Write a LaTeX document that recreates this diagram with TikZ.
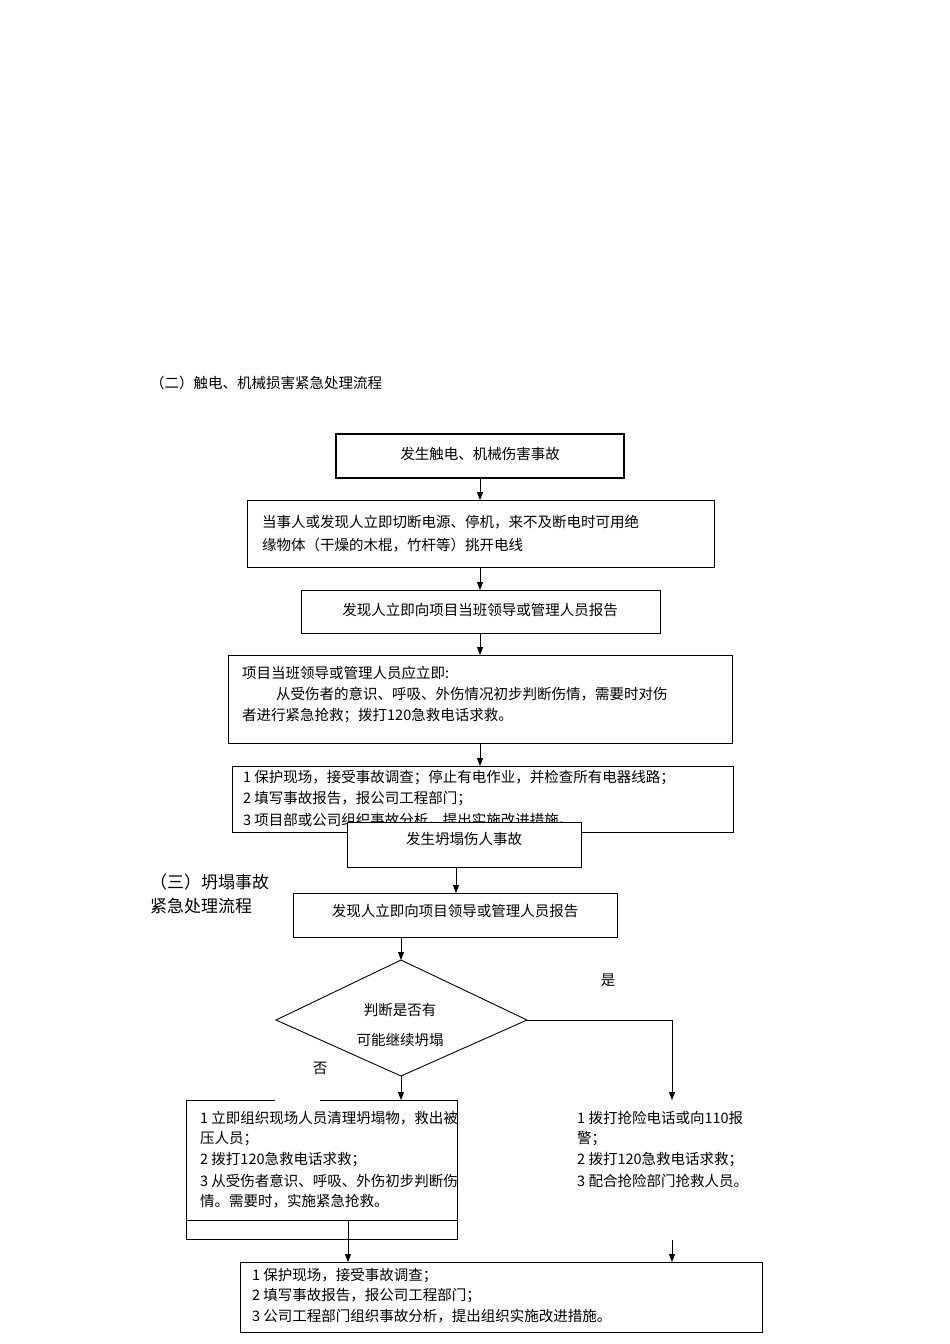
\documentclass[tikz,border=0pt]{standalone}
\usepackage{fontspec}
\setmainfont{Noto Sans CJK SC}
\usetikzlibrary{arrows.meta,shapes.geometric}
\begin{document}
\begin{tikzpicture}[x=1pt,y=-1pt,
  box/.style={draw,line width=0.9pt,fill=white},
  arr/.style={-{Triangle[length=8pt,width=6pt]},line width=0.9pt},
  txt/.style={font=\fontsize{14.5}{21}\selectfont,inner sep=0pt},
  tl/.style={txt,anchor=west}]
\useasboundingbox (0,0) rectangle (950,1344);
\node[tl] (t2) at (150,383) {（二）触电、机械损害紧急处理流程};
% box1
\draw[line width=1.8pt] (336,434) rectangle (624,478);
\node[txt] (b1) at (480,454) {发生触电、机械伤害事故};
\coordinate (b1s) at (480,478);
\draw[box] (247,500) rectangle (714,567);
\coordinate (b2n) at (480,500); \coordinate (b2s) at (480,567);
\node[tl] (b2a) at (262,522) {当事人或发现人立即切断电源、停机，来不及断电时可用绝};
\node[tl] (b2b) at (262,545) {缘物体（干燥的木棍，竹杆等）挑开电线};
\draw[box] (301,590) rectangle (660,633);
\coordinate (b3n) at (480,590); \coordinate (b3s) at (480,633);
\node[txt] (b3) at (480,610) {发现人立即向项目当班领导或管理人员报告};
\draw[box] (228,655) rectangle (732,743);
\coordinate (b4n) at (480,655); \coordinate (b4s) at (480,743);
\node[tl] (b4a) at (242,673) {项目当班领导或管理人员应立即:};
\node[tl] (b4b) at (276,694) {从受伤者的意识、呼吸、外伤情况初步判断伤情，需要时对伤};
\node[tl] (b4c) at (242,716) {者进行紧急抢救；拨打120急救电话求救。};
\draw[box] (232,766) rectangle (733,832);
\coordinate (b5n) at (480,766);
\node[tl] (b5a) at (243,778) {1 保护现场，接受事故调查；停止有电作业，并检查所有电器线路；};
\node[tl] (b5b) at (243,799) {2 填写事故报告，报公司工程部门；};
\node[tl] (b5c) at (243,820) {3 项目部或公司组织事故分析，提出实施改进措施。};
\draw[box] (347,822) rectangle (581,867);
\node[txt] (b6) at (464,839) {发生坍塌伤人事故};
\coordinate (b6s) at (456,867);
\draw[arr] (b1s) -- (b2n);
\draw[arr] (b2s) -- (b3n);
\draw[arr] (b3s) -- (b4n);
\draw[arr] (b4s) -- (b5n);
% section 3
\node[tl,font=\fontsize{17}{22}\selectfont] (t3a) at (150,882) {（三）坍塌事故};
\node[tl,font=\fontsize{17}{22}\selectfont] (t3b) at (150,906) {紧急处理流程};
\draw[box] (293,893) rectangle (617,937);
\coordinate (b7n) at (456,893); \coordinate (b7s) at (401,937);
\node[txt] (b7) at (455,911) {发现人立即向项目领导或管理人员报告};
\draw[arr] (b6s) -- (b7n);
\draw[line width=0.9pt] (401,960) -- (527,1020) -- (401,1076) -- (276,1020) -- cycle;
\coordinate (dn) at (401,960); \coordinate (ds) at (401,1076);
\coordinate (de) at (527,1020); \coordinate (dr) at (672,1020);
\node[txt] (d1) at (400,1010) {判断是否有};
\node[txt] (d2) at (400,1040) {可能继续坍塌};
\draw[arr] (b7s) -- (dn);
\node[txt] (yes) at (608,980) {是};
\node[txt] (no) at (320,1068) {否};
\coordinate (ln) at (401,1100); \coordinate (rn) at (672,1100);
\draw[arr] (ds) -- (ln);
\draw[arr] (de) -- (dr) -- (rn);
% left box
\draw[line width=0.9pt] (275,1100) -- (186,1100) -- (186,1239) -- (457,1239) -- (457,1100) -- (320,1100);
\draw[line width=0.9pt] (186,1220) -- (457,1220);
\node[tl] (l1) at (200,1118) {1 立即组织现场人员清理坍塌物，救出被};
\node[tl] (l2) at (200,1139) {压人员；};
\node[tl] (l3) at (200,1160) {2 拨打120急救电话求救；};
\node[tl] (l4) at (200,1181) {3 从受伤者意识、呼吸、外伤初步判断伤};
\node[tl] (l5) at (200,1201) {情。需要时，实施紧急抢救。};
\node[tl] (r1) at (577,1118) {1 拨打抢险电话或向110报};
\node[tl] (r2) at (577,1139) {警；};
\node[tl] (r3) at (577,1160) {2 拨打120急救电话求救；};
\node[tl] (r4) at (577,1181) {3 配合抢险部门抢救人员。};
\coordinate (la) at (348,1220); \coordinate (ra) at (672,1240);
\coordinate (fl) at (348,1262); \coordinate (fr) at (672,1262);
\draw[box] (240,1262) rectangle (762,1332);
\draw[arr] (la) -- (fl);
\draw[arr] (ra) -- (fr);
\node[tl] (f1) at (252,1276) {1 保护现场，接受事故调查；};
\node[tl] (f2) at (252,1296) {2 填写事故报告，报公司工程部门；};
\node[tl] (f3) at (252,1316) {3 公司工程部门组织事故分析，提出组织实施改进措施。};
\end{tikzpicture}
\end{document}
